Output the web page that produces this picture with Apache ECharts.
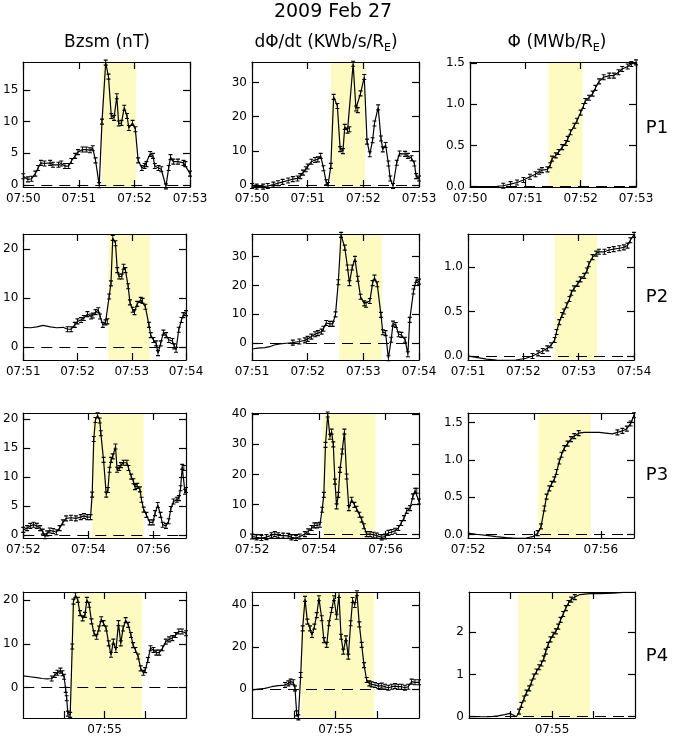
<!DOCTYPE html>
<html>
<head>
<meta charset="utf-8">
<script src="https://cdn.jsdelivr.net/npm/echarts@6/dist/echarts.min.js"></script>
<style>
  html, body { margin: 0; background: #fff; }
  #chart { width: 675px; height: 737px; }
</style>
</head>
<body>
<div id="chart"></div>
<script>
// each event window: start minute (past 07:00) and length in seconds
const rowStart = [50, 51, 52, 54];
const rowSpan = [180, 180, 300, 120];
const rowNames = ['P1', 'P2', 'P3', 'P4'];
const colTitles = ['Bzsm (nT)', 'dΦ/dt (KWb/s/R{s|E})', 'Φ (MWb/R{s|E})'];

// tick marks / labels on the time axes (seconds from window start)
const xTickVals = [[0, 60, 120, 180], [0, 60, 120, 180], [0, 120, 240], [30, 60, 90]];
const xLabelVals = [[0, 60, 120, 180], [0, 60, 120, 180], [0, 120, 240], [60]];

// yellow highlighted interval, seconds
const shade = [[85, 122], [94, 140], [127, 222], [35.4, 87.6]];

// y ranges and ticks, row by row (Bz, dPhi/dt, Phi)
const yRange = [
  [-0.3, 19.4], [-0.6, 36], [-0.005, 1.515],
  [-2.7, 23.1], [-5.8, 37.8], [-0.045, 1.37],
  [-0.5, 21.1], [-1.1, 40.4], [-0.045, 1.63],
  [-6.9, 21.8], [-13.8, 46.2], [-0.03, 2.95]
];
const yTickVals = [
  [0, 5, 10, 15], [0, 10, 20, 30], [0, 0.5, 1, 1.5],
  [0, 10, 20], [0, 10, 20, 30], [0, 0.5, 1],
  [0, 5, 10, 15, 20], [0, 10, 20, 30, 40], [0, 0.5, 1, 1.5],
  [0, 10, 20], [0, 20, 40], [0, 1, 2]
];
const yDecimals = [0, 0, 1, 0, 0, 1, 0, 0, 1, 0, 0, 0];

// stretches (seconds) where the error bars are big enough to show
const markWin = [
  [[0, 180]], [[0, 180]], [[35, 180]],
  [[45, 180]], [[40, 180]], [[70, 180]],
  [[0, 300]], [[0, 300]], [[125, 205], [268, 300]],
  [[20, 120]], [[22, 120]], [[35, 80]]
];

// [seconds, value]
const p1Bz = [[0,1.4],[5,0.9],[9,1.0],[13,1.8],[16,2.7],[19,3.5],[23,3.4],[29,3.5],[32,3.2],[38,3.2],[41,3.4],[45,3.0],[49,3.0],[52,3.8],[56,4.6],[59,5.2],[64,5.6],[68,5.6],[72,5.5],[75,5.8],[78,3.9],[82,0.0],[85,10.0],[89,19.3],[92,17.1],[95,10.9],[98,10.6],[101,14.0],[103,9.7],[106,9.8],[109,12.2],[112,10.9],[114,9.0],[118,9.8],[121,8.8],[124,3.9],[128,2.7],[131,3.0],[133,3.3],[137,4.9],[140,4.6],[142,3.0],[146,2.7],[149,2.5],[154,-0.2],[157,2.7],[159,4.4],[162,3.7],[167,3.7],[173,3.5],[175,3.3],[180,1.8]];
const p1Rate = [[0,-0.3],[5,-0.5],[12,-0.5],[17,-0.3],[23,0.1],[28,0.5],[33,0.9],[39,1.3],[44,1.7],[49,1.9],[52,2.6],[55,3.6],[58,4.6],[60,5.4],[64,6.8],[68,7.3],[71,7.5],[74,8.5],[77,4.9],[80,0.8],[82,0.0],[85,5.6],[88,25.8],[92,23.1],[95,10.5],[98,9.9],[100,17.0],[103,15.9],[105,16.3],[109,35.5],[112,22.4],[114,21.9],[117,26.8],[121,31.6],[124,12.7],[127,9.0],[130,13.1],[132,18.0],[136,22.7],[139,13.6],[141,10.4],[144,11.7],[147,6.3],[149,1.9],[152,-0.3],[156,6.5],[159,9.2],[165,9.1],[168,8.5],[172,7.8],[175,6.3],[177,2.6],[180,1.9]];
const p1Flux = [[0,0],[15,0],[29,0.004],[36,0.01],[44,0.03],[51,0.05],[58,0.08],[65,0.12],[71,0.15],[75,0.18],[78,0.2],[84,0.21],[87,0.26],[89,0.34],[93,0.38],[96,0.42],[100,0.48],[104,0.53],[106,0.58],[109,0.66],[113,0.74],[116,0.8],[120,0.9],[123,0.98],[125,1.04],[129,1.08],[133,1.13],[136,1.2],[140,1.28],[145,1.33],[151,1.35],[156,1.35],[161,1.39],[165,1.43],[171,1.46],[175,1.49],[180,1.51]];

const p2Bz = [[0,4.0],[8,3.9],[15,4.1],[22,4.4],[30,4.1],[37,3.9],[44,4.0],[49,3.6],[53,3.6],[57,4.5],[60,5.2],[64,5.5],[67,5.9],[71,6.7],[75,6.2],[77,6.4],[80,7.1],[83,7.5],[85,6.2],[88,4.5],[91,5.0],[93,5.2],[95,10.3],[97,13.0],[99,22.3],[102,21.2],[104,15.7],[106,14.4],[109,14.4],[111,16.4],[113,15.7],[116,12.4],[118,9.1],[121,7.6],[123,7.1],[126,8.8],[130,9.6],[132,9.4],[135,8.2],[139,4.5],[141,2.4],[144,1.4],[147,0.7],[149,-1.3],[152,0.7],[155,2.9],[158,2.4],[161,1.4],[165,1.2],[167,0.1],[169,-0.6],[172,3.5],[175,5.5],[177,6.5],[180,6.9]];
const p2Rate = [[0,-2.0],[6,-1.7],[14,-1.5],[19,-1.2],[24,-0.6],[30,-0.2],[37,0],[44,0.2],[51,0.6],[57,1.0],[60,1.5],[64,2.3],[68,3.1],[71,3.5],[75,4.0],[77,5.0],[80,7.0],[84,6.7],[87,6.7],[90,10.0],[93,21.1],[96,37.5],[100,33.1],[103,26.2],[105,20.8],[108,26.2],[111,29.2],[114,22.3],[117,16.1],[121,13.8],[123,13.3],[127,14.6],[130,20.8],[132,22.7],[135,20.4],[139,9.8],[141,3.8],[144,3.5],[147,-5.2],[150,1.2],[152,6.8],[155,6.3],[158,3.1],[161,2.9],[165,1.2],[168,-3.8],[170,8.1],[174,17.9],[177,21.9],[180,21.3]];
const p2Flux = [[0,0],[9,-0.015],[20,-0.035],[31,-0.045],[41,-0.05],[52,-0.045],[63,-0.025],[70,0],[76,0.03],[81,0.056],[86,0.086],[90,0.12],[94,0.18],[96,0.27],[99,0.38],[102,0.46],[104,0.5],[107,0.57],[110,0.64],[112,0.71],[115,0.76],[119,0.81],[122,0.86],[126,0.9],[129,0.96],[131,1.03],[135,1.11],[139,1.15],[142,1.17],[148,1.17],[153,1.19],[158,1.2],[164,1.21],[169,1.22],[173,1.24],[176,1.3],[180,1.36]];

const p3Bz = [[0,0.9],[7,1.2],[13,1.6],[19,1.8],[25,1.6],[31,1.2],[36,0.6],[40,-0.2],[44,0.3],[49,0.8],[55,0.7],[61,0.5],[67,1.2],[73,2.2],[79,2.9],[88,3.0],[97,2.9],[106,3.1],[112,3.3],[118,3.1],[124,3.1],[127,7.0],[130,16.6],[133,19.9],[137,20.7],[141,19.8],[143,17.6],[148,13.0],[153,7.0],[156,7.8],[159,11.3],[162,13.0],[165,13.6],[170,15.3],[173,11.3],[177,11.6],[180,12.1],[185,12.5],[191,12.5],[194,11.6],[199,10.1],[203,9.3],[206,8.3],[210,8.5],[215,7.9],[218,6.1],[222,4.4],[227,3.5],[233,2.2],[239,2.2],[243,3.8],[248,5.2],[253,3.5],[257,1.8],[263,1.6],[268,2.4],[272,4.5],[277,5.8],[283,6.1],[287,6.4],[290,8.1],[293,11.8],[296,11.6],[298,7.5],[300,7.8]];
const p3Rate = [[0,-0.6],[8,-0.9],[17,-1.1],[26,-0.8],[35,-0.2],[41,0.2],[47,-0.2],[56,-0.3],[65,-0.4],[71,-0.9],[79,-1.1],[86,-0.6],[95,0.2],[101,1.1],[107,2.2],[112,3.1],[117,3.1],[122,3.3],[126,8.3],[129,13.2],[132,29.8],[136,39.9],[140,32.5],[143,34.2],[146,30.0],[149,17.6],[152,9.4],[155,13.2],[158,21.5],[162,27.6],[166,34.2],[170,19.3],[174,8.8],[179,11.6],[184,9.9],[188,8.6],[193,6.6],[197,5.0],[201,2.8],[206,0.2],[212,0.2],[218,0.0],[224,-0.3],[233,-0.9],[239,-0.6],[245,0.6],[251,0.9],[257,1.3],[263,2.2],[268,3.9],[273,5.5],[278,7.9],[284,8.8],[289,12.7],[293,14.6],[296,14.6],[300,11.0]];
const p3Flux = [[0,0.02],[15,0.005],[33,-0.01],[51,-0.027],[69,-0.04],[87,-0.05],[105,-0.045],[117,-0.027],[126,0.02],[132,0.11],[138,0.35],[142,0.51],[147,0.62],[151,0.68],[156,0.74],[160,0.84],[165,0.98],[169,1.07],[174,1.16],[180,1.22],[186,1.28],[192,1.32],[200,1.36],[210,1.37],[225,1.37],[237,1.37],[249,1.36],[261,1.35],[270,1.37],[279,1.39],[287,1.42],[294,1.49],[300,1.6]];

const p4Bz = [[0,2.7],[5,2.5],[10,2.3],[14,2.1],[17.5,2.0],[21,2.1],[23.3,2.9],[25.2,3.4],[27.4,3.9],[28.9,3.3],[30.1,2.5],[31.3,-0.5],[32,-2.4],[32.9,-5.9],[34.6,-6.2],[36.1,9.4],[37,19.6],[38.5,21.1],[40.2,20.0],[41.8,17.0],[43.8,15.8],[45.5,16.6],[46.9,20.0],[48.6,18.9],[50.3,15.1],[52.2,12.4],[54.1,11.6],[55.8,13.5],[57.5,15.6],[59.2,14.7],[61.1,13.5],[63,10.1],[64.7,7.5],[66.4,10.5],[68.3,8.6],[70.2,14.7],[71.9,10.1],[73.6,13.5],[75.5,15.4],[77.4,14.3],[79.4,12.0],[81,9.7],[82.7,8.6],[84.7,7.1],[86.6,4.4],[88.5,3.4],[89.9,4.0],[91.9,6.3],[93.8,9.0],[96,8.6],[98.1,8.0],[100.3,8.0],[102.7,9.0],[105.1,10.5],[107.5,11.0],[109.9,11.3],[112.3,12.0],[114.7,12.8],[117.1,12.8],[120,12.4]];
const p4Rate = [[0,-0.5],[4.6,0],[9.3,0.3],[14.1,1.1],[18.9,1.6],[23.7,1.9],[26.1,2.7],[27.8,3.5],[29.7,3.2],[30.9,0.3],[32.1,-11.6],[33.3,-13.5],[35,6.7],[36.4,28.9],[38.1,42.9],[39.8,32.1],[41.7,28.9],[43.1,25.7],[44.8,29.7],[46.5,35.2],[48.1,43.2],[50.1,33.7],[51.7,23.3],[53.7,21.0],[55.3,31.3],[57.2,37.6],[58.9,43.2],[60.8,34.4],[62.5,44.8],[64,24.9],[65.6,17.8],[67.5,24.1],[69.2,15.4],[70.9,31.3],[72.3,42.4],[73.8,40.0],[75.4,45.6],[77.1,30.8],[78.8,21.0],[80.5,11.4],[82.4,4.3],[84.3,2.7],[86,2.2],[88.4,1.9],[90.8,1.4],[93.2,1.6],[95.6,1.1],[98,0.6],[100.4,1.1],[102.8,1.4],[105.1,1.1],[107.5,1.1],[109.9,0.6],[112.3,1.1],[114.7,3.5],[117.1,3.2],[120,3.2]];
const p4Flux = [[0,0],[7.7,0],[15,0],[21,0.02],[25.8,0.05],[29.5,0.08],[31.9,0.04],[34.3,0],[36.2,0.12],[37.9,0.28],[39.8,0.43],[41.5,0.57],[43.5,0.67],[45.1,0.81],[46.8,0.95],[48.8,1.07],[50.7,1.17],[52.4,1.26],[54.1,1.38],[55.5,1.54],[57.2,1.70],[58.9,1.83],[60.8,1.94],[62.8,2.02],[64.5,2.13],[66.2,2.29],[68.1,2.43],[70,2.57],[71.9,2.69],[73.9,2.77],[76.5,2.83],[80.2,2.89],[87.4,2.91],[94.6,2.91],[104.3,2.92],[111.5,2.94],[120,2.94]];

const panels = [p1Bz, p1Rate, p1Flux, p2Bz, p2Rate, p2Flux, p3Bz, p3Rate, p3Flux, p4Bz, p4Rate, p4Flux];

// plot boxes (px)
const rowTop = [62, 234, 413, 592];
const rowH = [125, 126, 125, 126];
const colLeft = [[23, 252, 470], [19, 252, 468], [19, 252, 468], [19, 252, 469]];
const colW = [167, 167, 166];

const FONT = 'DejaVu Sans';
const errBar = 'path://M0,0H8M4,0V10M0,10H8';

function timeLabel(r, v) {
  const m = Math.round(rowStart[r] + v / 60);
  return '07:' + String(m).padStart(2, '0');
}

const grids = [], xAxes = [], yAxes = [], series = [];
const lineCol = { color: '#000', width: 1.2 };

for (let i = 0; i < 12; i++) {
  const r = Math.floor(i / 3), c = i % 3;
  grids.push({ left: colLeft[r][c], top: rowTop[r], width: colW[c], height: rowH[r] });

  ['bottom', 'top'].forEach(pos => {
    xAxes.push({
      type: 'value', gridIndex: i, position: pos, min: 0, max: rowSpan[r], z: 5,
      axisLine: { show: true, onZero: false, lineStyle: lineCol },
      axisTick: { show: true, inside: true, length: 7, customValues: xTickVals[r], lineStyle: lineCol },
      axisLabel: pos === 'bottom'
        ? { show: true, customValues: xLabelVals[r], formatter: v => timeLabel(r, v),
            margin: 6, color: '#000', fontSize: 12, fontFamily: FONT }
        : { show: false },
      splitLine: { show: false }
    });
  });
  ['left', 'right'].forEach(pos => {
    yAxes.push({
      type: 'value', gridIndex: i, position: pos, min: yRange[i][0], max: yRange[i][1], z: 5,
      axisLine: { show: true, onZero: false, lineStyle: lineCol },
      axisTick: { show: true, inside: true, length: 7, customValues: yTickVals[i], lineStyle: lineCol },
      axisLabel: pos === 'left'
        ? { show: true, customValues: yTickVals[i], formatter: v => v.toFixed(yDecimals[i]),
            margin: 5, color: '#000', fontSize: 12, fontFamily: FONT }
        : { show: false },
      splitLine: { show: false }
    });
  });

  const win = markWin[i];
  series.push({
    type: 'line',
    xAxisIndex: 2 * i, yAxisIndex: 2 * i,
    data: panels[i],
    symbol: v => (win.some(w => v[0] >= w[0] && v[0] <= w[1]) ? errBar : 'none'),
    symbolSize: [4, 5], showAllSymbol: true,
    itemStyle: { color: '#000', borderColor: '#000', borderWidth: 1 },
    lineStyle: { color: '#000', width: 1.2 },
    silent: true,
    markArea: {
      silent: true,
      itemStyle: { color: '#fdfbc2' },
      data: [[{ xAxis: shade[r][0] }, { xAxis: shade[r][1] }]]
    },
    markLine: {
      silent: true, symbol: ['none', 'none'], label: { show: false },
      lineStyle: { color: '#000', width: 1.2, type: [11, 7] },
      data: [{ yAxis: 0 }]
    }
  });
}

const texts = [
  { type: 'text', x: 333, y: 12, style: { text: '2009 Feb 27', fontSize: 19, fontFamily: FONT, fill: '#000', align: 'center', verticalAlign: 'middle' } }
];
const colX = [107, 326, 557];
colTitles.forEach((t, c) => {
  texts.push({
    type: 'text', x: colX[c], y: 43,
    style: {
      text: t, fontSize: 17, fontFamily: FONT, fill: '#000', lineHeight: 22,
      align: 'center', verticalAlign: 'middle',
      rich: { s: { fontSize: 11, fontFamily: FONT, lineHeight: 11, verticalAlign: 'bottom' } }
    }
  });
});
const rowLabelY = [128, 297, 475, 656];
rowNames.forEach((t, r) => {
  texts.push({ type: 'text', x: 657, y: rowLabelY[r], style: { text: t, fontSize: 18, fontFamily: FONT, fill: '#000', align: 'center', verticalAlign: 'middle' } });
});

const chart = echarts.init(document.getElementById('chart'));
chart.setOption({
  animation: false,
  backgroundColor: '#fff',
  grid: grids,
  xAxis: xAxes,
  yAxis: yAxes,
  series: series,
  graphic: texts
});
</script>
</body>
</html>
